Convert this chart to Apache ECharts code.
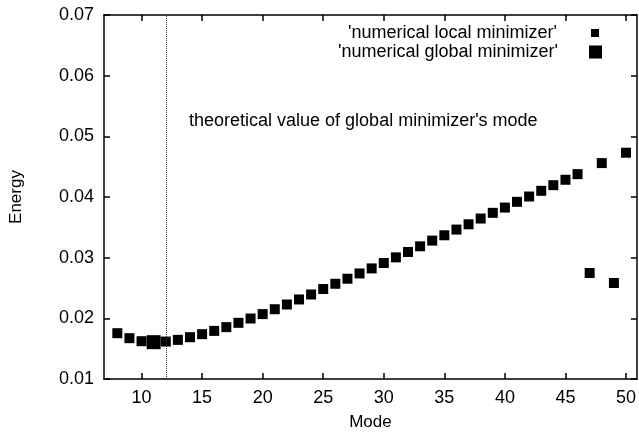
<!DOCTYPE html>
<html>
<head>
<meta charset="utf-8">
<script src="https://cdn.jsdelivr.net/npm/echarts@6/dist/echarts.min.js"></script>
<style>
  html, body { margin: 0; padding: 0; background: #fff; }
  #chart { width: 639px; height: 439px; }
</style>
</head>
<body>
<div id="chart"></div>
<script>
// modes 8..50
const modes = [8, 9, 10, 11, 12, 13, 14, 15, 16, 17, 18, 19, 20, 21, 22, 23, 24, 25, 26, 27, 28, 29,
  30, 31, 32, 33, 34, 35, 36, 37, 38, 39, 40, 41, 42, 43, 44, 45, 46, 47, 48, 49, 50]
const localEnergy = [0.01755, 0.01673, 0.01623, 0.01610, 0.01617, 0.01645, 0.01689, 0.01739, 0.01793,
  0.01855, 0.01926, 0.01997, 0.02070, 0.02150, 0.02228, 0.02311, 0.02393, 0.02483, 0.02570, 0.02653,
  0.02740, 0.02823, 0.02912, 0.03005, 0.03094, 0.03187, 0.03281, 0.03369, 0.03463, 0.03550, 0.03645,
  0.03739, 0.03826, 0.03920, 0.04008, 0.04102, 0.04195, 0.04284, 0.04377, 0.02747, 0.04559, 0.02582,
  0.04730]
const globalMode = [11]
const globalEnergy = [0.01607]
const theoreticalMode = 12
const xTicks = [10, 15, 20, 25, 30, 35, 40, 45, 50]

const localName = "'numerical local minimizer'"
const globalName = "'numerical global minimizer'"
const font = 'Liberation Sans, Arial, sans-serif'

const chart = echarts.init(document.getElementById('chart'))

const xBase = {
  type: 'value',
  min: 6.9,
  max: 50.9,
  splitLine: { show: false },
  axisLine: { show: true, onZero: false, lineStyle: { color: '#000', width: 1.5 } },
  axisTick: { show: true, inside: true, length: 6, customValues: xTicks, lineStyle: { color: '#000', width: 1.5 } }
}
const yBase = {
  type: 'value',
  min: 0.01,
  max: 0.07,
  interval: 0.01,
  splitLine: { show: false },
  axisLine: { show: true, onZero: false, lineStyle: { color: '#000', width: 1.5 } },
  axisTick: { show: true, inside: true, length: 6, lineStyle: { color: '#000', width: 1.5 } }
}

const option = {
  backgroundColor: '#fff',
  animation: false,
  grid: { left: 103, right: 0, top: 15, bottom: 60 },
  legend: [
    {
      data: [{ name: localName, icon: 'rect' }],
      right: 35,
      top: 19,
      align: 'right',
      itemWidth: 8,
      itemHeight: 8,
      selectedMode: false,
      textStyle: { fontFamily: font, fontSize: 18, color: '#000', padding: [0, 29, 0, 0] }
    },
    {
      data: [{ name: globalName, icon: 'rect' }],
      right: 32,
      top: 38,
      align: 'right',
      itemWidth: 13,
      itemHeight: 13,
      selectedMode: false,
      textStyle: { fontFamily: font, fontSize: 18, color: '#000', padding: [0, 26, 0, 0] }
    }
  ],
  xAxis: [
    Object.assign({}, xBase, {
      position: 'bottom',
      name: 'Mode',
      nameLocation: 'middle',
      nameGap: 35,
      nameTextStyle: { fontFamily: font, fontSize: 17, color: '#000' },
      axisLabel: { show: true, customValues: xTicks, margin: 10, fontFamily: font, fontSize: 18, color: '#000' }
    }),
    Object.assign({}, xBase, { position: 'top', axisLabel: { show: false } })
  ],
  yAxis: [
    Object.assign({}, yBase, {
      position: 'left',
      name: 'Energy',
      nameLocation: 'middle',
      nameRotate: 90,
      nameGap: 79,
      nameTextStyle: { fontFamily: font, fontSize: 17, color: '#000' },
      axisLabel: {
        show: true, margin: 10, fontFamily: font, fontSize: 18, color: '#000',
        showMinLabel: true, showMaxLabel: true,
        formatter: (v) => v.toFixed(2)
      }
    }),
    Object.assign({}, yBase, { position: 'right', axisLabel: { show: false } })
  ],
  graphic: [
    {
      type: 'text',
      left: 189,
      top: 112,
      style: { text: "theoretical value of global minimizer's mode", font: '18px ' + font, fill: '#000' }
    }
  ],
  series: [
    {
      name: localName,
      type: 'scatter',
      symbol: 'rect',
      symbolSize: 10,
      itemStyle: { color: '#000', opacity: 1 },
      data: modes.map((m, i) => [m, localEnergy[i]]),
      markLine: {
        silent: true,
        symbol: 'none',
        label: { show: false },
        lineStyle: { type: 'dotted', color: '#333', width: 1 },
        data: [{ xAxis: theoreticalMode }]
      }
    },
    {
      name: globalName,
      type: 'scatter',
      symbol: 'rect',
      symbolSize: 14,
      itemStyle: { color: '#000', opacity: 1 },
      z: 3,
      data: globalMode.map((m, i) => [m, globalEnergy[i]])
    }
  ]
}

chart.setOption(option)
</script>
</body>
</html>
